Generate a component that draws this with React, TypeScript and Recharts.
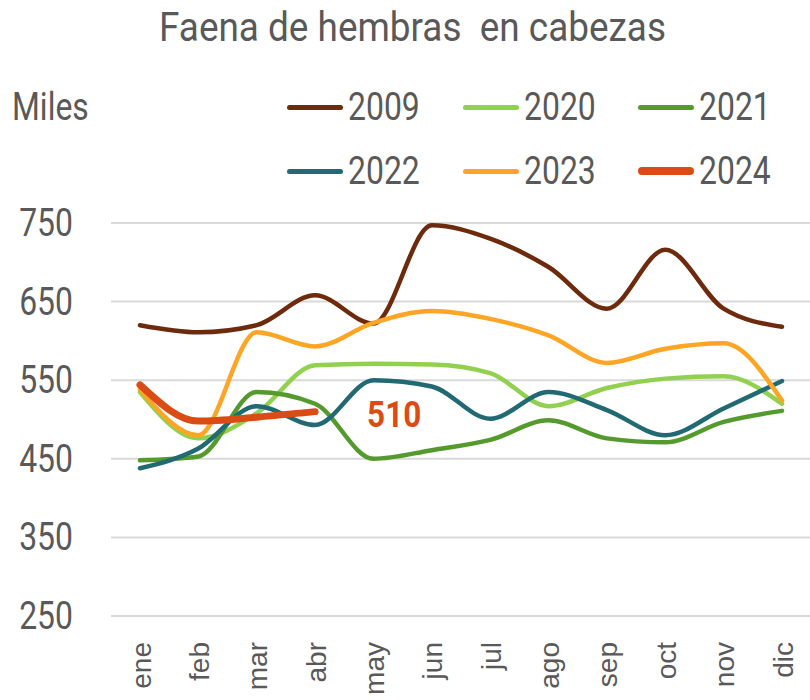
import { LineChart, Line, XAxis, YAxis, CartesianGrid, Legend, LabelList } from 'recharts'

const months = ['ene', 'feb', 'mar', 'abr', 'may', 'jun', 'jul', 'ago', 'sep', 'oct', 'nov', 'dic']
const s2009 = [620, 611, 620, 658, 622, 747, 730, 694, 641, 716, 641, 618]
const s2020 = [535, 476, 508, 569, 571, 570, 559, 517, 540, 552, 555, 520]
const s2021 = [448, 453, 535, 520, 450, 461, 474, 499, 476, 471, 497, 511]
const s2022 = [438, 463, 517, 493, 550, 542, 501, 535, 512, 480, 514, 549]
const s2023 = [538, 480, 611, 593, 623, 638, 628, 607, 572, 590, 597, 524]
const s2024 = [544, 498, 503, 510]
const yTicks = [250, 350, 450, 550, 650, 750]

const series = [
  { key: 'y2009', name: '2009', color: '#6E2A0C', width: 4.5 },
  { key: 'y2020', name: '2020', color: '#92D050', width: 4.5 },
  { key: 'y2021', name: '2021', color: '#549A2C', width: 4.5 },
  { key: 'y2022', name: '2022', color: '#216A73', width: 4.5 },
  { key: 'y2023', name: '2023', color: '#FFA526', width: 4.5 },
  { key: 'y2024', name: '2024', color: '#DB4C14', width: 7 },
]

const data = months.map((m, i) => ({
  month: m,
  y2009: s2009[i],
  y2020: s2020[i],
  y2021: s2021[i],
  y2022: s2022[i],
  y2023: s2023[i],
  y2024: s2024[i],
}))

const GREY = '#595959'
const FONT = 'Roboto, sans-serif'
const SQUEEZE = 0.84

const YTick = ({ y, payload }: any) => (
  <text
    transform={`translate(73, ${y}) scale(${SQUEEZE}, 1)`}
    textAnchor="end"
    dominantBaseline="central"
    fontFamily={FONT}
    fontSize={38}
    fill={GREY}
  >
    {payload.value}
  </text>
)

const XTick = ({ x, y, payload }: any) => (
  <text
    transform={`translate(${x + 1}, ${y + 18}) rotate(-90)`}
    textAnchor="end"
    dominantBaseline="central"
    fontFamily="'Liberation Sans', Arial, sans-serif"
    fontSize={28}
    fill={GREY}
  >
    {payload.value}
  </text>
)

const LastLabel = ({ x, y, index, value }: any) => {
  if (index !== 3) return null
  return (
    <text
      transform={`translate(${x + 52}, ${y + 2}) scale(0.85, 1)`}
      dominantBaseline="central"
      fontFamily={FONT}
      fontWeight="bold"
      fontSize={37}
      fill="#DB4C14"
    >
      {value}
    </text>
  )
}

const LegendBox = () => (
  <div style={{ display: 'grid', gridTemplateColumns: '176px 175px 172px' }}>
    {series.map((s) => (
      <div key={s.key} style={{ display: 'flex', alignItems: 'center', height: 64 }}>
        <div
          style={{
            width: 56,
            height: s.key === 'y2024' ? 8 : 5,
            background: s.color,
            borderRadius: 4,
            marginRight: 5,
            flex: 'none',
          }}
        />
        <span
          style={{
            fontFamily: FONT,
            fontSize: 38,
            color: GREY,
            display: 'inline-block',
            transform: `scaleX(${SQUEEZE})`,
            transformOrigin: 'left center',
            lineHeight: 1,
          }}
        >
          {s.name}
        </span>
      </div>
    ))}
  </div>
)

export default function App() {
  return (
    <div style={{ position: 'absolute', left: 0, top: 0, width: 810, height: 700, overflow: 'hidden', background: '#fff' }}>
      <div
        style={{
          position: 'absolute', left: 0, top: 3, width: 825, textAlign: 'center',
          fontFamily: FONT, fontSize: 41, color: GREY, transform: 'scaleX(0.9)',
          transformOrigin: '412.5px 0', whiteSpace: 'pre', lineHeight: 1.2,
        }}
      >
        Faena de hembras  en cabezas
      </div>
      <div
        style={{
          position: 'absolute', left: 12, top: 85, fontFamily: FONT, fontSize: 38, color: GREY,
          transform: `scaleX(${SQUEEZE})`, transformOrigin: 'left top', lineHeight: 1.2,
        }}
      >
        Miles
      </div>
      <LineChart width={811} height={700} data={data} margin={{ top: 223, right: 0, bottom: 0, left: 0 }}>
        <CartesianGrid horizontal vertical={false} stroke="#D9D9D9" strokeWidth={2} />
        <XAxis
          dataKey="month"
          axisLine={false}
          tickLine={false}
          height={84}
          interval={0}
          padding={{ left: 29, right: 29 }}
          tick={<XTick />}
        />
        <YAxis
          domain={[250, 750]}
          ticks={yTicks}
          width={111}
          axisLine={false}
          tickLine={false}
          tick={<YTick />}
        />
        <Legend
          layout="horizontal"
          verticalAlign="middle"
          align="center"
          content={<LegendBox />}
          wrapperStyle={{ position: 'absolute', left: 287, top: 75, width: 523 }}
        />
        {series.map((s) => (
          <Line
            key={s.key}
            type="monotone"
            dataKey={s.key}
            name={s.name}
            stroke={s.color}
            strokeWidth={s.width}
            strokeLinecap="round"
            dot={false}
            activeDot={false}
            isAnimationActive={false}
          >
            {s.key === 'y2024' ? <LabelList dataKey="y2024" content={<LastLabel />} /> : null}
          </Line>
        ))}
      </LineChart>
    </div>
  )
}
